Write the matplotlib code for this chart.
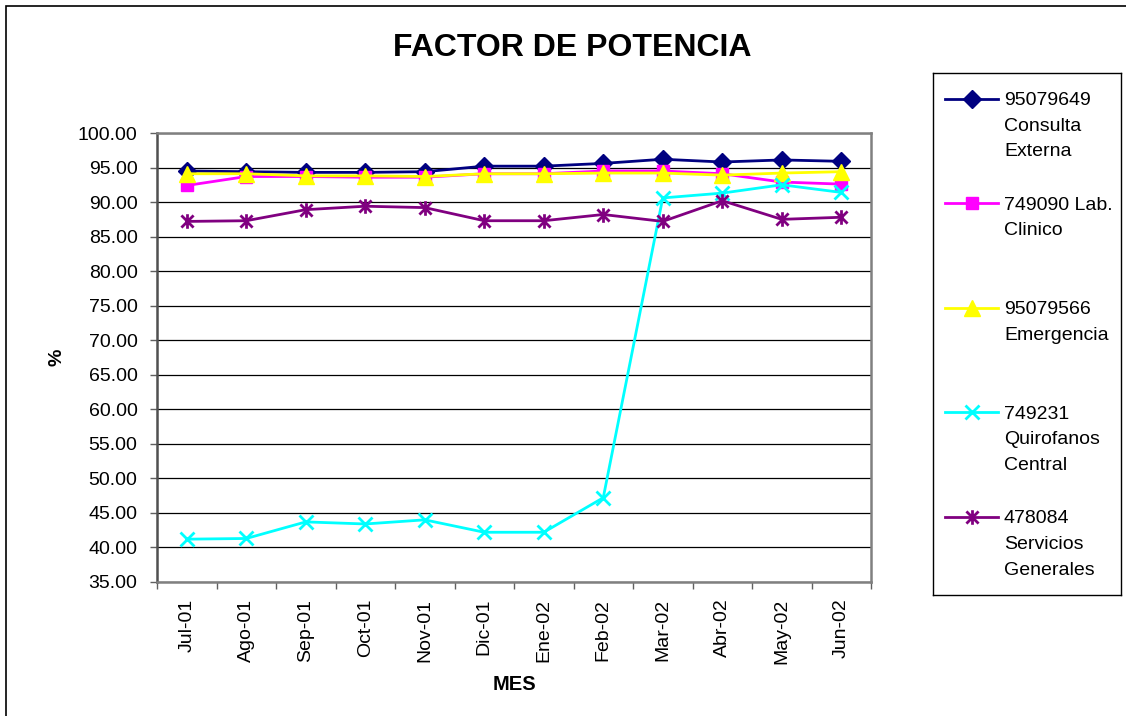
import numpy as np
import matplotlib
matplotlib.use('Agg')
import matplotlib.pyplot as plt
from matplotlib.path import Path
from matplotlib.patches import Rectangle

plt.rcParams['font.family'] = ['Liberation Sans', 'DejaVu Sans']

meses = ['Jul-01', 'Ago-01', 'Sep-01', 'Oct-01', 'Nov-01', 'Dic-01',
         'Ene-02', 'Feb-02', 'Mar-02', 'Abr-02', 'May-02', 'Jun-02']

consulta = [94.5, 94.4, 94.3, 94.3, 94.4, 95.2, 95.2, 95.6, 96.2, 95.8, 96.1, 95.9]
lab = [92.4, 93.7, 93.7, 93.6, 93.6, 94.1, 94.1, 94.5, 94.5, 94.1, 92.9, 92.6]
emergencia = [94.1, 94.1, 93.8, 93.8, 93.7, 94.1, 94.1, 94.2, 94.2, 93.9, 94.2, 94.4]
quirofanos = [41.2, 41.3, 43.7, 43.4, 44.0, 42.2, 42.2, 47.2, 90.6, 91.3, 92.5, 91.4]
servicios = [87.2, 87.3, 88.9, 89.4, 89.2, 87.3, 87.3, 88.2, 87.2, 90.2, 87.5, 87.8]

etiquetas = ['95079649\nConsulta\nExterna',
             '749090 Lab.\nClinico',
             '95079566\nEmergencia',
             '749231\nQuirofanos\nCentral',
             '478084\nServicios\nGenerales']

yticks = np.arange(35, 100.1, 5)

# excel style asterisk: X plus vertical bar
aster = Path([(-1, -1), (1, 1), (-1, 1), (1, -1), (0, -1.2), (0, 1.2)],
             [Path.MOVETO, Path.LINETO] * 3)

estilos = [
    dict(color='#000080', marker='D', ms=9, mfc='#000080', mec='#000080'),
    dict(color='#FF00FF', marker='s', ms=8.5, mfc='#FF00FF', mec='#FF00FF'),
    dict(color='#FFFF00', marker='^', ms=11, mfc='#FFFF00', mec='#FFFF00'),
    dict(color='#00FFFF', marker='x', ms=9.5, mew=2, mec='#00FFFF'),
    dict(color='#800080', marker=aster, ms=10.5, mew=2, mfc='none', mec='#800080'),
]
series = [consulta, lab, emergencia, quirofanos, servicios]

W, H = 1126, 716
fig = plt.figure(figsize=(W / 100, H / 100), dpi=100)

# outer chart border (only top / left visible)
fig.patches.append(Rectangle((6 / W, -0.1), 1.2, 1 - 6 / H + 0.1, transform=fig.transFigure,
                             fill=False, edgecolor='#000000', lw=1.2))

ax = fig.add_axes([157 / W, 1 - 582 / H, 714 / W, 449 / H])
x = np.arange(len(meses))
for i, (s, st) in enumerate(zip(series, estilos)):
    ax.plot(x, s, lw=2, zorder=3 + i, clip_on=False, **st)

ax.set_xlim(-0.5, len(meses) - 0.5)
ax.set_ylim(35, 100)
ax.set_yticks(yticks)
ax.set_yticklabels(['%.2f' % v for v in yticks], fontsize=14)
ax.yaxis.grid(True, color='black', lw=0.9)
ax.set_axisbelow(True)

ax.set_xticks(np.arange(-0.5, len(meses)), minor=False)
ax.set_xticklabels([])
ax.set_xticks(x, minor=True)
ax.set_xticklabels(meses, minor=True, rotation=90, fontsize=14, va='top')
ax.tick_params(axis='x', which='major', length=5, width=1, color='#606060', direction='out')
ax.tick_params(axis='x', which='minor', length=0, pad=12)
ax.tick_params(axis='y', length=5, width=1, color='#606060', pad=9)

for sp in ax.spines.values():
    sp.set_color('#808080')
    sp.set_linewidth(1.8)
ax.spines['left'].set_color('#505050')

ax.set_xlabel('MES', fontsize=14.5, fontweight='bold', labelpad=8)
ax.set_ylabel('%', fontsize=14, fontweight='bold', labelpad=9)

fig.text(572 / W, 1 - 48 / H, 'FACTOR DE POTENCIA', fontsize=23, fontweight='bold',
         ha='center', va='center')

# legend drawn like excel (evenly spaced entries, text top aligned with the key)
lg = fig.add_axes([933 / W, 1 - 595 / H, 188 / W, 522 / H])
lg.set_xlim(0, 188)
lg.set_ylim(522, 0)
lg.set_xticks([])
lg.set_yticks([])
for sp in lg.spines.values():
    sp.set_color('black')
    sp.set_linewidth(1)
for i, (lab_txt, st) in enumerate(zip(etiquetas, estilos)):
    y0 = 25.5 + i * 104.6
    lg.plot([12, 38.5, 65], [y0, y0, y0], lw=2, markevery=[1], **st)
    for k, linea in enumerate(lab_txt.split('\n')):
        lg.text(71, y0 + 2 + k * 25.7, linea, fontsize=14, va='center', ha='left')

fig.savefig('out.png', dpi=100)
